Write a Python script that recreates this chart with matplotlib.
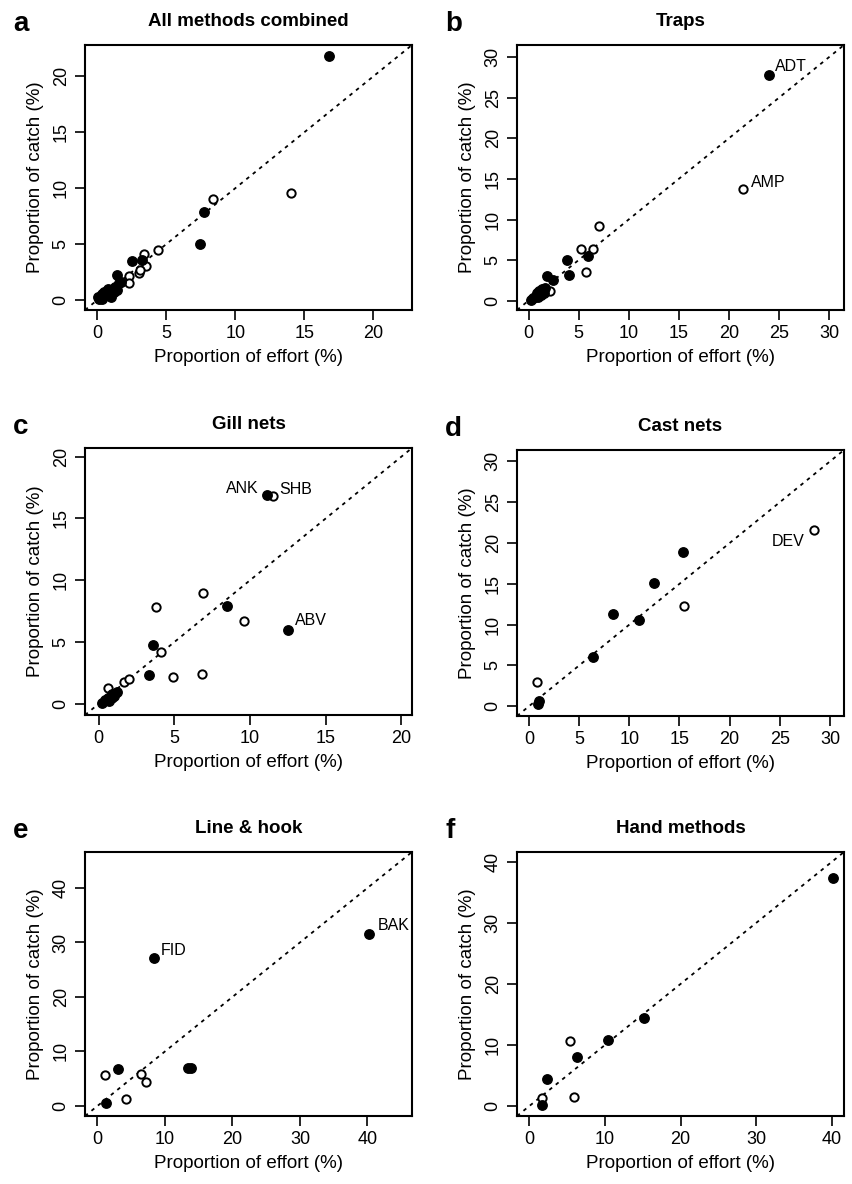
import matplotlib
matplotlib.use('Agg')
import matplotlib.pyplot as plt

plt.rcParams['font.family'] = ['Liberation Sans', 'DejaVu Sans']

# a: all methods combined
a_fill_x = [16.8, 7.7, 7.4, 2.5, 3.2, 1.4, 1.7, 1.6, 1.3, 1.1, 1.4, 1.2, 0.9, 0.8, 0.7,
            0.5, 0.6, 0.4, 0.3, 0.2, 0.1, 0.3, 0.05, 0.9, 1.0]
a_fill_y = [21.8, 7.9, 5.0, 3.5, 3.6, 2.2, 1.6, 1.5, 1.2, 1.0, 0.9, 0.7, 0.8, 1.0, 0.6,
            0.7, 0.4, 0.3, 0.5, 0.2, 0.1, 0.05, 0.3, 0.5, 0.3]
a_open_x = [14.0, 8.4, 4.4, 3.4, 3.5, 3.0, 3.1, 2.3, 2.3]
a_open_y = [9.6, 9.0, 4.5, 4.1, 3.0, 2.4, 2.7, 2.1, 1.5]

# b: traps
b_fill_x = [24.0, 5.9, 3.8, 4.0, 1.8, 2.4, 1.6, 1.3, 1.0, 0.8, 1.2, 0.6, 0.4, 0.2, 0.9, 1.5]
b_fill_y = [27.8, 5.5, 5.0, 3.2, 3.0, 2.5, 1.6, 1.4, 1.2, 0.9, 0.7, 0.5, 0.3, 0.1, 0.4, 1.0]
b_open_x = [21.4, 7.0, 5.2, 6.4, 5.7, 2.1]
b_open_y = [13.7, 9.2, 6.4, 6.4, 3.5, 1.2]

# c: gill nets
c_fill_x = [12.5, 11.1, 8.5, 3.6, 3.3, 1.2, 0.9, 0.6, 0.4, 0.2, 0.7, 1.0]
c_fill_y = [6.0, 16.9, 7.9, 4.8, 2.3, 1.0, 0.8, 0.5, 0.3, 0.1, 0.2, 0.6]
c_open_x = [11.5, 6.9, 3.8, 9.6, 4.1, 4.9, 6.8, 1.7, 2.0, 0.6, 0.9]
c_open_y = [16.8, 9.0, 7.8, 6.7, 4.2, 2.2, 2.4, 1.8, 2.0, 1.3, 0.5]

# d: cast nets
d_fill_x = [15.3, 12.5, 8.4, 11.0, 6.4, 0.9, 1.0]
d_fill_y = [18.9, 15.1, 11.3, 10.6, 6.0, 0.3, 0.6]
d_open_x = [28.4, 15.4, 0.8]
d_open_y = [21.6, 12.3, 3.0]

# e: line & hook
e_fill_x = [40.3, 8.4, 13.4, 13.8, 3.0, 1.2]
e_fill_y = [31.6, 27.1, 7.0, 7.0, 6.7, 0.6]
e_open_x = [1.1, 6.5, 7.2, 4.2]
e_open_y = [5.7, 5.9, 4.3, 1.3]

# f: hand methods
f_fill_x = [40.1, 15.2, 10.4, 6.3, 2.3, 1.7]
f_fill_y = [37.4, 14.5, 10.9, 8.0, 4.5, 0.2]
f_open_x = [5.4, 5.9, 1.7]
f_open_y = [10.7, 1.5, 1.3]

# labelled species: (panel, code, x, y, dx px, dy px, ha)
labels = [
    ('b', 'ADT', 24.0, 27.8, 6, 9, 'left'),
    ('b', 'AMP', 21.4, 13.7, 8, 7, 'left'),
    ('c', 'ANK', 11.1, 16.9, -8, 6, 'right'),
    ('c', 'SHB', 11.5, 16.8, 7, 7, 'left'),
    ('c', 'ABV', 12.5, 6.0, 7, 9, 'left'),
    ('d', 'DEV', 28.4, 21.6, -9, -12, 'right'),
    ('e', 'FID', 8.4, 27.1, 7, 8, 'left'),
    ('e', 'BAK', 40.3, 31.6, 8, 8, 'left'),
]

panels = [
    ('a', 'All methods combined', a_fill_x, a_fill_y, a_open_x, a_open_y, (-0.9, 22.8), [0, 5, 10, 15, 20]),
    ('b', 'Traps', b_fill_x, b_fill_y, b_open_x, b_open_y, (-1.15, 31.5), [0, 5, 10, 15, 20, 25, 30]),
    ('c', 'Gill nets', c_fill_x, c_fill_y, c_open_x, c_open_y, (-0.9, 20.7), [0, 5, 10, 15, 20]),
    ('d', 'Cast nets', d_fill_x, d_fill_y, d_open_x, d_open_y, (-1.2, 31.4), [0, 5, 10, 15, 20, 25, 30]),
    ('e', 'Line & hook', e_fill_x, e_fill_y, e_open_x, e_open_y, (-1.85, 46.6), [0, 10, 20, 30, 40]),
    ('f', 'Hand methods', f_fill_x, f_fill_y, f_open_x, f_open_y, (-1.6, 41.6), [0, 10, 20, 30, 40]),
]

W, H = 852, 1184
fig = plt.figure(figsize=(W / 100, H / 100), dpi=100)

# pixel boxes (left, top, right, bottom)
boxes = {
    'a': (85, 45, 412, 310), 'b': (517, 45, 844, 310),
    'c': (85, 448, 412, 715), 'd': (517, 450, 844, 716),
    'e': (85, 852, 412, 1116), 'f': (517, 852, 844, 1116),
}

for key, title, fx, fy, ox, oy, lim, ticks in panels:
    l, t, r, b = boxes[key]
    ax = fig.add_axes([l / W, 1 - b / H, (r - l) / W, (b - t) / H])
    ax.plot(lim, lim, color='black', lw=1.3, linestyle=(0, (2.0, 2.6)), zorder=1)
    ax.plot(fx, fy, 'o', color='black', ms=6.8, zorder=3)
    ax.plot(ox, oy, 'o', mfc='white', mec='black', mew=1.4, ms=6.0, zorder=2)
    ax.set_xlim(lim)
    ax.set_ylim(lim)
    ax.set_xticks(ticks)
    ax.set_yticks(ticks)
    ax.tick_params(direction='out', length=7, width=1.2, labelsize=13, pad=4)
    plt.setp(ax.get_yticklabels(), rotation=90, va='center')
    for s in ax.spines.values():
        s.set_linewidth(1.5)
    ax.set_xlabel('Proportion of effort (%)', fontsize=13.5, labelpad=5)
    ax.set_ylabel('Proportion of catch (%)', fontsize=13.5, labelpad=6)
    ax.set_title(title, fontsize=13.5, fontweight='bold', pad=14)
    fig.text((l - 72) / W, 1 - (t - 21) / H, key, fontsize=20, fontweight='bold',
             ha='left', va='center')
    for p, code, x, y, dx, dy, ha in labels:
        if p == key:
            ax.annotate(code, (x, y), xytext=(dx, dy), textcoords='offset pixels',
                        fontsize=11.5, ha=ha, va='center')

fig.savefig('out.png', dpi=100)
